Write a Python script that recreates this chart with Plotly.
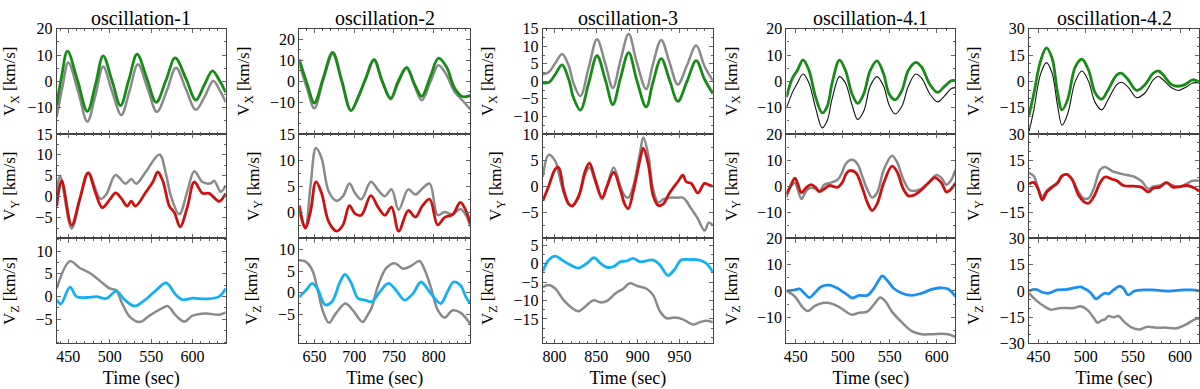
import plotly.graph_objects as go

# ---------------- data ----------------
# oscillation-1
O1_VX_T = [436, 442, 449, 461, 473, 483, 492, 503, 513, 523, 533, 545, 556, 568, 579, 592, 604, 614, 624, 633, 640]
O1_VX = [-9.2, 2, 11.5, 0.5, -11.4, -1, 9.7, 0, -9.2, 0.5, 10.3, 1, -8.0, 0.5, 8.9, 1, -7.1, -1.5, 4.0, 0, -4.2]
O1_VX_REF_T = [436, 443, 450, 462, 473, 483, 492, 503, 514, 524, 534, 546, 557, 569, 580, 592, 604, 615, 625, 633, 640]
O1_VX_REF = [-13.5, -2, 7.2, -4, -15.3, -5, 5.6, -4, -12.8, -3.5, 6.5, -3, -11.6, -3.5, 5.2, -3, -10.8, -5.5, 0.1, -3.5, -7.9]
O1_VY_T = [436, 442, 454, 464, 474, 483, 491, 500, 507, 514, 521, 526, 531, 544, 552, 558, 564, 572, 578, 585, 594, 602, 612, 620, 632, 640]
O1_VY = [-2.25, 3.8, -6.8, -0.5, 5.7, 0.8, -2.6, -0.7, 0.9, -0.4, -2.25, -1.1, -2.25, 1.2, 3.5, 5.9, 3.8, -2.25, -3.8, -7.2, -2.25, 3.5, 0.8, 0.8, -1.1, 0.8]
O1_VY_REF_T = [436, 440, 454, 464, 474, 489, 496, 507, 519, 526, 532, 544, 560, 568, 574, 584, 594, 602, 612, 622, 626, 634, 640]
O1_VY_REF = [0.8, 5, -7.6, -0.5, 5.7, -0.5, 0.6, 5.2, 3.1, 4.2, 3.1, 6.1, 10.1, 5.3, 0, -4.2, 1.5, 6.1, 3.5, 3.2, 3.8, 1.2, 2.7]
O1_VZ_T = [436, 441, 452, 460, 472, 484, 496, 508, 518, 530, 540, 556, 568, 580, 588, 600, 616, 632, 640]
O1_VZ = [-0.7, -1.6, 2.1, 0, -0.2, 0, -0.4, 1.2, -0.7, -2.1, -1.1, 1.4, 3.0, 0.35, -0.7, -0.35, -0.5, 0, 1.8]
O1_VZ_REF_T = [436, 452, 464, 476, 488, 500, 508, 514, 524, 536, 548, 564, 570, 580, 590, 600, 616, 632, 640]
O1_VZ_REF = [1.8, 7.8, 6.3, 5.2, 3.5, 1.8, 1.4, -1.1, -4.4, -5.6, -4.2, -2.5, -2.1, -4.2, -5.5, -4.2, -3.7, -4.0, -3.5]

# oscillation-2
O2_VX_T = [631, 641, 650, 661, 673, 684, 696, 705, 714, 725, 735, 746, 755, 766, 776, 785, 796, 806, 816, 826, 836, 846]
O2_VX = [10.4, -1.4, -10.3, 1.5, 13.8, 0.9, -13.9, -7.5, 0.9, 10.3, 0.4, -8, -0.3, 6.6, -1.4, -7.1, 2.4, 11, 6.9, -3, -7.2, -6.8]
O2_VX_REF = [8.4, -3.7, -12.8, 0.4, 13, 0.4, -13.9, -7.8, 0.5, 10, 0.1, -8.6, -1.1, 6.2, -2.2, -9, -0.2, 7.7, 3.1, -4.8, -9, -13.3]
O2_VY_T = [631, 638.5, 645, 652, 659, 668, 678, 686, 694, 701, 709, 721, 730, 738.5, 747, 756, 768, 777, 786, 795, 805, 813.5, 824, 833.5, 840.5, 846]
O2_VY = [1.3, -3, 0.05, 5.85, 3.7, -1.8, -3.6, -2.4, 1.3, -0.25, -0.55, 3.2, 1, -0.55, 1, -3.6, 0.35, -0.9, 1.3, 2.5, -2.4, -1, -0.4, 1.9, 0.35, -2.1]
O2_VY_REF = [0.05, -3, 4.9, 12.3, 10.4, 4, 2.2, 3.1, 5.5, 3.7, 2.5, 5.85, 4.3, 3.1, 4.4, 0.5, 4.4, 3.4, 4.6, 5.5, -0.55, 0.05, -0.4, 0.65, -0.55, -2.7]
O2_VZ_T = [631, 641, 647, 654, 663.5, 672, 682, 688.5, 696, 705, 713.5, 722, 732, 743, 753, 763.5, 774, 784, 795, 803, 809, 818, 825, 834, 840.5, 846]
O2_VZ = [-1, 0.9, 2.2, 0.9, -2.8, -2.1, 2.4, 4.3, 2.4, -1.35, -1.7, -2.1, 0.15, 2.2, 0.5, -1.7, -0.2, 2.5, 0.15, -1.7, -2.5, 0.5, 2.5, 1.65, -1, -2.5]
O2_VZ_REF_T = [631, 638.5, 647, 655, 661, 668.5, 677, 689, 698, 710.5, 716, 722, 730, 740.5, 751, 761.5, 772, 782, 788.5, 797, 805, 813.5, 824, 834, 846]
O2_VZ_REF = [7.6, 7.3, 5.4, 0, -4.5, -7, -4.8, -2.5, -4, -6.8, -5.5, -3.5, 1.65, 5.8, 6.9, 5.6, 6.3, 7.4, 5.4, 0.9, -4, -5.8, -4.1, -4.7, -7.3]

# oscillation-3
O3_VX_T = [786, 793, 801, 809, 817, 823, 831, 841, 851, 861, 870, 879, 889, 898.5, 910, 918, 928, 938, 948, 959, 970, 980, 990]
O3_VX = [-0.45, -0.3, 2, 4.7, 0.6, -4.8, -8.2, -0.5, 7.3, 0.4, -6.6, 0.8, 8.2, 0.5, -7.3, -0.4, 6.5, 0.4, -5.7, 0, 5.9, 0.6, -3.5]
O3_VX_REF = [2, 2.6, 5.2, 7.8, 4.5, -0.7, -4.2, 3.9, 12, 5, -1.9, 5.8, 13.5, 5.6, -2.2, 4.8, 11.8, 5.4, -0.9, 4.6, 10.2, 4.3, 0.2]
O3_VY_T = [786, 793, 801, 805, 811, 817, 821, 829, 837, 842, 849, 857, 863, 871, 879, 884.5, 888.5, 894.5, 902.5, 906.5, 912.5, 918.5, 924.5, 930.5, 938, 948, 954, 958, 964, 972, 980, 985, 990]
O3_VY = [-2.8, 0, 3.3, 3.6, -0.7, -3.4, -3.8, -1.9, 3, 4.4, 1.2, -2.2, 0, 2.7, -0.7, -3.5, -4.3, -1, 5, 7.3, 4.2, -1.9, -3.7, -3.4, -1.3, 0.85, 2.1, 0.85, 0.55, -1.3, 0.55, 0.25, -0.05]
O3_VY_REF = [1.8, 6, 4.8, 2.5, -1.2, -3.4, -3.8, -2, 2.4, 3.6, 0.85, -2.5, 0, 3.6, 0, -1.9, -2.2, 0, 6.3, 9.3, 6, -0.7, -3.1, -2.5, -2.2, -2.2, -2.2, -2.8, -4.3, -6.2, -8.5, -7, -7.5]
O3_VZ_T = [786, 793, 801, 809, 819, 829, 839, 847.5, 855, 863, 871, 879, 886.5, 894.5, 902.5, 918.5, 926.5, 936, 944, 952, 962, 974, 982, 990]
O3_VZ = [-2.1, 0.95, 2, 0.95, -0.35, -1.2, 0.1, 1.6, 0.1, -1, -0.8, 0.5, 0.7, 1.4, 0.5, 0.95, -0.35, -3.2, -1.6, 0.95, 1.1, 0.95, 0.1, -2.3]
O3_VZ_REF_T = [786, 793, 801, 811, 821, 829, 837, 847, 855, 863, 873, 882.5, 890.5, 898.5, 910.5, 918.5, 926.5, 934.5, 944, 954, 966, 974, 982, 990]
O3_VZ_REF = [-6.4, -5.8, -6.8, -9.9, -12, -12.9, -11.6, -9.9, -10.5, -10.1, -8.1, -6.8, -5.3, -6, -6.8, -8.6, -12.9, -14.8, -14.6, -15.1, -16.5, -15.9, -15.5, -15.9]

# oscillation-4.1
O4_VX_T = [440, 446.4, 451.7, 457.7, 464, 471.1, 478.1, 483.4, 488.7, 496.5, 502.8, 509.9, 515.9, 522.3, 529.3, 536.4, 543.4, 549.4, 555.8, 562.8, 569.9, 577.7, 584, 592.8, 601, 608.7, 615.8, 620]
O4_VX = [-6, 1.2, 4.2, 8.2, 4.2, -6, -12, -9.6, -0.6, 8.1, 4.2, -4.8, -8.4, -4.8, 4.2, 7.8, 3, -4.8, -7, -3.6, 4.2, 7.2, 5.4, -1.2, -4.2, -1.8, 0.25, 0.25]
O4_VX_REF = [-10.2, -4.2, -0.6, 2.8, -0.6, -10.2, -17.7, -15, -6.6, 1.8, -0.6, -9, -14.5, -11.4, -1.8, 1.8, -1.8, -9, -12.4, -9.6, -1.8, 2.8, 1.2, -4.8, -7.8, -5.4, -2.7, -2.4]
O4_VY_T = [440, 445, 449, 452, 456, 461, 466, 471.5, 475, 480.5, 485.5, 494.5, 499.7, 503.2, 506.7, 513.8, 520.8, 526.1, 531.3, 536.6, 543.6, 552.4, 557.7, 564.7, 570, 575.3, 582.3, 591.1, 598.1, 605.2, 610.4, 615.7, 620]
O4_VY = [-3.1, 0.6, 3.1, 1, -2.5, -0.6, 0.6, -0.6, -2.1, -1, 0.25, -0.4, 1.5, 4.5, 5.9, 5.2, -0.6, -6.2, -9.3, -6.8, 1.2, 7.7, 5.6, -1.2, -3.7, -3.5, -1.9, 1.2, 3.3, 1.2, -2.2, -1, 1.2]
O4_VY_REF_T = [440, 445, 449, 452, 456, 461, 466, 471.5, 475, 480.5, 485.5, 494.5, 499.7, 503.2, 510.2, 515.5, 520.8, 526.1, 531.3, 536.6, 543.6, 552.4, 557.7, 564.7, 571.8, 582.3, 591.1, 599.9, 605.2, 610.4, 615.7, 620]
O4_VY_REF = [-4.3, 0, 1.2, -1.2, -4.9, -1.85, -0.6, -1.2, -1.85, 0.6, 1.2, 2.5, 5.6, 8.6, 10.1, 8.6, 3.7, -1.2, -4.3, -2.5, 6.2, 11.7, 9.3, 2.5, -1.6, -1.2, 1.2, 4.3, 3.1, 0.6, 2.5, 6.2]
O4_VZ_T = [440, 449, 454, 459, 464.5, 470, 477, 485.5, 494.5, 499.7, 505, 510.2, 517.3, 526.1, 533.1, 538.4, 541.9, 547.2, 554.2, 563, 573.5, 584.1, 594.6, 605.2, 612.2, 620]
O4_VZ = [0, 0.4, 0.75, -0.85, -2.5, -0.85, 1.6, 2.2, 1, -0.25, -1.5, -2.7, -1.7, -1.7, 1, 4.1, 5.7, 4.1, 1, -0.9, -1.7, -0.9, 0.6, 1.2, 0.7, -2.1]
O4_VZ_REF_T = [440, 448.8, 457.6, 462.8, 469.9, 478.6, 485.7, 494.5, 499.7, 505, 510.2, 517.3, 526.1, 533.1, 540.1, 545.4, 552.4, 563, 573.5, 584.1, 594.6, 605.2, 612.2, 620]
O4_VZ_REF = [0, -2.1, -6.4, -7.7, -5.8, -4.6, -4.6, -5.8, -7, -8.3, -9.1, -8.3, -7.9, -5.2, -2.5, -4, -7.9, -12, -15.3, -16.5, -16.5, -16.3, -16.5, -17.5]

# oscillation-4.2
O5_VX_T = [440, 445, 452, 458.5, 464.5, 470, 475, 481, 489, 496, 503, 510, 517, 524, 533, 538, 545, 554, 563, 571.5, 577, 582, 591, 598, 605, 613.5, 620]
O5_VX = [-19.4, -7.4, 11.1, 19.1, 13, -5.6, -16.3, -10.2, 8.3, 12.6, 6.5, -6.5, -10.2, -4.6, 3.7, 4.6, 0.9, -5.2, -1.85, 4.6, 5.9, 3.7, -1.85, -2.8, -1.85, 0.9, -0.4]
O5_VX_REF = [-28.7, -16.7, 3.7, 10.7, 4.6, -13, -25, -18.5, 0, 5.9, 0, -12, -16.3, -10.2, -1.85, -0.55, -3.3, -9.3, -6.5, 0.9, 2.8, 0.9, -3.7, -5.2, -3.7, -0.9, -0.9]
O5_VY_T = [440, 445, 449.5, 454, 459, 464.5, 470, 475, 480, 485.5, 492.5, 498, 503, 508.5, 515.5, 520.5, 528, 533, 540, 550.5, 559, 566.5, 571.5, 578.5, 585.5, 592.5, 599.5, 606.5, 613.5, 620]
O5_VY = [1.3, 2.2, -1.5, -7.9, -3.3, -0.55, 1.65, 5.9, 6.8, 4, -5.2, -8.8, -9.8, -6.1, 2.2, 5.3, 4, 3.1, 0.4, 0, -0.55, -3.3, -1.1, -0.55, 2.2, -0.55, -0.2, 0.4, -0.55, -2.8]
O5_VY_REF = [7.7, 5.9, -0.55, -6.1, -2.4, -0.2, 2.2, 5.9, 6.8, 4, -3.3, -7, -7, -1.5, 9.6, 11, 8.7, 7.8, 6.8, 5.6, 3, -1.5, -0.2, 0.4, 1.65, 0.4, -0.55, 1.3, 3.1, 3.1]
O5_VZ_T = [440, 447, 454, 461, 470, 480.5, 489, 494.5, 499.5, 505, 511, 517, 520.5, 524, 529.5, 536, 540, 545, 552, 561, 571.5, 582, 592.5, 603, 612, 620]
O5_VZ = [0, 0.9, -0.75, -1.3, 0.55, 0.9, 1.9, 2.25, 1.1, -0.9, -4.5, -2.25, -1.3, -1.7, 0.55, 2.8, 1.5, -2.25, 0, 0.55, 0.55, 0, 0, 0.55, 0.55, 0]
O5_VZ_REF_T = [440, 447, 456, 463, 473.5, 487.5, 494.5, 501.5, 508.5, 512.5, 517, 520.5, 524, 529.5, 535, 540, 549, 557.5, 564.5, 575, 585.5, 596, 606.5, 615.5, 620]
O5_VZ_REF = [-1.3, -5.1, -8.8, -10.7, -9.8, -9.8, -8.8, -10.7, -15.4, -18.2, -16.9, -16.3, -14.4, -15, -14.4, -17.3, -21, -22, -20.6, -21, -21, -21.4, -19.1, -16.3, -15.8]

# axes / labels (only the labelled ticks; unlabelled positions get minor ticks)
TITLES = ["oscillation-1", "oscillation-2", "oscillation-3", "oscillation-4.1", "oscillation-4.2"]
X_RANGES = [[436, 640], [631, 846], [786, 990], [440, 620], [440, 620]]
X_TICKS = [[450, 500, 550, 600], [650, 700, 750, 800], [800, 850, 900, 950],
           [450, 500, 550, 600], [450, 500, 550, 600]]
Y_RANGES = [
    [[-20, 20], [-10, 15], [-10.3, 12.8]],
    [[-25, 25], [-5, 15], [-11.8, 12.65]],
    [[-15, 15], [-10, 10], [-21.6, 6.8]],
    [[-20, 20], [-20, 20], [-20, 20]],
    [[-30, 30], [-30, 30], [-30, 30]],
]
Y_TICKS = [
    [[20, 10, 0, -10], [15, 10, 5, 0, -5], [10, 5, 0, -5]],
    [[20, 10, 0, -10], [15, 10, 5, 0], [10, 5, 0, -5]],
    [[15, 10, 5, 0, -5, -10], [10, 5, 0, -5], [5, 0, -5, -10, -15]],
    [[20, 10, 0, -10], [20, 10, 0, -10], [20, 10, 0, -10]],
    [[30, 15, 0, -15], [30, 15, 0, -15], [30, 15, 0, -15, -30]],
]
Y_TITLES = ["V<sub>X</sub> [km/s]", "V<sub>Y</sub> [km/s]", "V<sub>Z</sub> [km/s]"]

# ---------------- styling / layout ----------------
W, H = 1200, 389
FONT = "Liberation Serif"
GREEN = "#168c16"
RED = "#cc1111"
BLUE_A = "#14b0f2"
BLUE_B = "#1c8ef0"
GRAY = "#8a8a8a"
BLACK = "#111111"
FRAME = "#444444"
TICKC = "#666666"

COL_PX = [[50, 220], [294, 466], [539, 710], [784, 954], [1028, 1199]]
ROW_PX = [[21.7, 131.7], [131.7, 241], [241, 350.7]]

SERIES = [
    [(O1_VX_REF_T, O1_VX_REF, GRAY, 2.5, O1_VX_T, O1_VX, GREEN),
     (O1_VY_REF_T, O1_VY_REF, GRAY, 2.5, O1_VY_T, O1_VY, RED),
     (O1_VZ_REF_T, O1_VZ_REF, GRAY, 2.5, O1_VZ_T, O1_VZ, BLUE_A)],
    [(O2_VX_T, O2_VX_REF, GRAY, 2.5, O2_VX_T, O2_VX, GREEN),
     (O2_VY_T, O2_VY_REF, GRAY, 2.5, O2_VY_T, O2_VY, RED),
     (O2_VZ_REF_T, O2_VZ_REF, GRAY, 2.5, O2_VZ_T, O2_VZ, BLUE_A)],
    [(O3_VX_T, O3_VX_REF, GRAY, 2.5, O3_VX_T, O3_VX, GREEN),
     (O3_VY_T, O3_VY_REF, GRAY, 2.5, O3_VY_T, O3_VY, RED),
     (O3_VZ_REF_T, O3_VZ_REF, GRAY, 2.5, O3_VZ_T, O3_VZ, BLUE_A)],
    [(O4_VX_T, O4_VX_REF, BLACK, 1.1, O4_VX_T, O4_VX, GREEN),
     (O4_VY_REF_T, O4_VY_REF, GRAY, 2.5, O4_VY_T, O4_VY, RED),
     (O4_VZ_REF_T, O4_VZ_REF, GRAY, 2.5, O4_VZ_T, O4_VZ, BLUE_B)],
    [(O5_VX_T, O5_VX_REF, BLACK, 1.1, O5_VX_T, O5_VX, GREEN),
     (O5_VY_T, O5_VY_REF, GRAY, 2.5, O5_VY_T, O5_VY, RED),
     (O5_VZ_REF_T, O5_VZ_REF, GRAY, 2.5, O5_VZ_T, O5_VZ, BLUE_B)],
]

fig = go.Figure()
layout = {}
annotations = []

for c in range(5):
    xd = [COL_PX[c][0] / W, COL_PX[c][1] / W]
    for r in range(3):
        idx = r * 5 + c + 1
        sfx = "" if idx == 1 else str(idx)
        yd = [1 - ROW_PX[r][1] / H, 1 - ROW_PX[r][0] / H]
        rt, rv, rcol, rw, ct, cv, ccol = SERIES[c][r]
        fig.add_trace(go.Scatter(x=rt, y=rv, mode="lines",
                                 line=dict(color=rcol, width=rw, shape="spline", smoothing=1.0),
                                 xaxis="x" + sfx, yaxis="y" + sfx, showlegend=False,
                                 hoverinfo="skip"))
        fig.add_trace(go.Scatter(x=ct, y=cv, mode="lines",
                                 line=dict(color=ccol, width=2.8, shape="spline", smoothing=1.0),
                                 xaxis="x" + sfx, yaxis="y" + sfx, showlegend=False,
                                 hoverinfo="skip"))
        xax = dict(
            domain=xd, range=X_RANGES[c], anchor="y" + sfx,
            tickmode="array", tickvals=X_TICKS[c], showticklabels=(r == 2),
            minor=dict(ticks="inside", ticklen=2, tickcolor=TICKC, tick0=0, dtick=10),
        )
        if r == 2:
            xax["title"] = dict(text="Time (sec)", standoff=8)
            xax["ticklabelstandoff"] = -2
        layout["xaxis" + sfx] = xax
        tv = Y_TICKS[c][r]
        major = abs(tv[0] - tv[1])
        layout["yaxis" + sfx] = dict(
            domain=yd, range=Y_RANGES[c][r], anchor="x" + sfx,
            tickmode="array", tickvals=tv,
            minor=dict(ticks="inside", ticklen=2, tickcolor=TICKC, tick0=0,
                       dtick=(5 if major >= 10 else 2.5)),
            title=dict(text=Y_TITLES[r], standoff=15),
        )
    annotations.append(dict(text=TITLES[c], x=(xd[0] + xd[1]) / 2, y=1 - 10 / H,
                            xref="paper", yref="paper", showarrow=False,
                            xanchor="center", yanchor="middle",
                            font=dict(family=FONT, size=20, color="black")))

fig.update_layout(**layout)
fig.update_layout(width=W, height=H, margin=dict(l=0, r=0, t=0, b=0),
                  font=dict(family=FONT, size=16, color="black"),
                  paper_bgcolor="white", plot_bgcolor="white",
                  annotations=annotations, showlegend=False)
fig.update_xaxes(showline=True, mirror="allticks", linecolor=FRAME, linewidth=1.2,
                 ticks="inside", ticklen=4, tickwidth=1, tickcolor=TICKC,
                 showgrid=False, zeroline=False,
                 tickfont=dict(family=FONT, size=16, color="black"),
                 title_font=dict(family=FONT, size=18, color="black"))
fig.update_yaxes(showline=True, mirror="allticks", linecolor=FRAME, linewidth=1.2,
                 ticks="inside", ticklen=4, tickwidth=1, tickcolor=TICKC,
                 showgrid=False, zeroline=False,
                 tickfont=dict(family=FONT, size=16, color="black"),
                 title_font=dict(family=FONT, size=17, color="black"))
fig.write_html("out.html", config={"displayModeBar": False},
               post_script="document.body.style.margin='0';document.body.style.overflow='hidden';")
